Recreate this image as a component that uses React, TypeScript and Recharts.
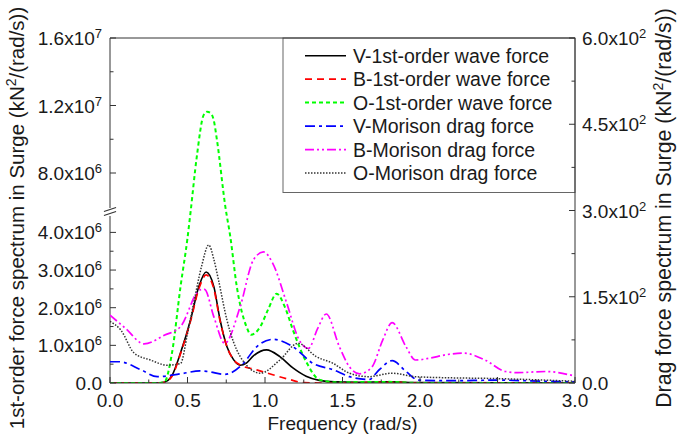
import React from 'react';
import { LineChart, Line, XAxis, YAxis, ReferenceLine, Customized } from 'recharts';

// ---------- data ----------
const seriesNames = [
  'V-1st-order wave force',
  'B-1st-order wave force',
  'O-1st-order wave force',
  'V-Morison drag force',
  'B-Morison drag force',
  'O-Morison drag force',
];

// first-order wave force spectra (left axis, kN^2/(rad/s))
const vWaveFreq = [0, 0.3, 0.35, 0.4, 0.455, 0.52, 0.573, 0.62, 0.67, 0.71, 0.754, 0.797, 0.84, 0.88, 0.925, 1.01, 1.096, 1.18, 1.265, 1.35, 1.45, 1.6, 1.8, 2.0, 3.0];
const vWaveVal = [0, 0, 0.02e6, 0.2e6, 0.8e6, 1.68e6, 2.56e6, 2.95e6, 2.56e6, 1.68e6, 0.97e6, 0.62e6, 0.47e6, 0.53e6, 0.72e6, 0.88e6, 0.7e6, 0.4e6, 0.18e6, 0.07e6, 0.03e6, 0.02e6, 0.03e6, 0.01e6, 0];

const bWaveFreq = [0, 0.3, 0.35, 0.4, 0.455, 0.52, 0.573, 0.62, 0.67, 0.71, 0.754, 0.797, 0.84, 0.946, 1.05, 1.16, 1.25, 1.4, 1.8, 2.0, 3.0];
const bWaveVal = [0, 0, 0.02e6, 0.18e6, 0.78e6, 1.65e6, 2.5e6, 2.87e6, 2.5e6, 1.65e6, 0.97e6, 0.62e6, 0.48e6, 0.35e6, 0.22e6, 0.09e6, 0.01e6, 0, 0.02e6, 0, 0];

const oWaveFreq = [0, 0.3, 0.35, 0.4, 0.455, 0.5, 0.519, 0.56, 0.604, 0.626, 0.647, 0.669, 0.69, 0.744, 0.776, 0.818, 0.88, 0.91, 0.97, 1.02, 1.075, 1.13, 1.18, 1.27, 1.35, 1.45, 1.8, 2.0, 3.0];
const oWaveVal = [0, 0, 0.02e6, 0.8e6, 2.56e6, 3.85e6, 5.3e6, 8.97e6, 11.43e6, 11.63e6, 11.57e6, 11.14e6, 9.96e6, 5.74e6, 3.89e6, 2.56e6, 1.5e6, 1.28e6, 1.5e6, 1.95e6, 2.37e6, 2.0e6, 1.41e6, 0.53e6, 0.09e6, 0.02e6, 0.03e6, 0, 0];

// Morison drag force spectra (right axis, kN^2/(rad/s))
const vMorFreq = [0, 0.06, 0.2, 0.305, 0.455, 0.58, 0.63, 0.74, 0.86, 0.946, 1.053, 1.18, 1.31, 1.44, 1.545, 1.67, 1.737, 1.82, 1.91, 1.99, 2.2, 2.5, 2.8, 3.0];
const vMorVal = [37, 37, 23, 11, 16, 21, 20, 15, 34, 63, 76, 63, 34, 23, 11, 6, 23, 39, 20, 5, 4, 5, 3, 2];

const bMorFreq = [0, 0.1, 0.22, 0.35, 0.455, 0.58, 0.61, 0.67, 0.74, 0.84, 0.925, 0.99, 1.05, 1.14, 1.22, 1.28, 1.34, 1.395, 1.48, 1.545, 1.61, 1.69, 1.76, 1.82, 1.91, 1.97, 2.06, 2.165, 2.28, 2.42, 2.55, 2.63, 2.81, 3.0];
const bMorVal = [118, 95, 68, 83, 98, 162, 163, 115, 69, 133, 214, 228, 208, 139, 75, 60, 95, 120, 63, 28, 16, 28, 75, 105, 63, 40, 43, 49, 52, 40, 20, 18, 20, 12];

const oMorFreq = [0, 0.07, 0.156, 0.26, 0.37, 0.455, 0.5, 0.54, 0.59, 0.637, 0.67, 0.7, 0.754, 0.84, 0.97, 1.096, 1.213, 1.33, 1.44, 1.545, 1.67, 1.82, 1.97, 2.2, 2.44, 2.7, 3.0];
const oMorVal = [107, 92, 52, 40, 31, 34, 86, 139, 202, 240, 215, 179, 110, 46, 17, 40, 69, 46, 34, 17, 11, 17, 11, 9, 8, 6, 3];

// ticks
const xTicks = [0, 0.25, 0.5, 0.75, 1, 1.25, 1.5, 1.75, 2, 2.25, 2.5, 2.75, 3];
const xTickLabels = ['0.0', '', '0.5', '', '1.0', '', '1.5', '', '2.0', '', '2.5', '', '3.0'];
const leftTickValues = [0, 0.5e6, 1e6, 1.5e6, 2e6, 2.5e6, 3e6, 3.5e6, 4e6, 8e6, 1e7, 1.2e7, 1.4e7, 1.6e7];
const leftTickLabels = ['0.0', '', '1.0x10^6', '', '2.0x10^6', '', '3.0x10^6', '', '4.0x10^6', '8.0x10^6', '', '1.2x10^7', '', '1.6x10^7'];
const rightTicks = [0, 75, 150, 225, 300, 375, 450, 525, 600];
const rightTickLabels = ['0.0', '', '1.5x10^2', '', '3.0x10^2', '', '4.5x10^2', '', '6.0x10^2'];

// ---------- broken left axis: piecewise-linear axis units ----------
const LOW_MAX = 4e6;
const HIGH_MIN = 8e6;
const HIGH_MAX = 1.6e7;
const U_LOW = 150.6; // axis units at 4e6
const U_HIGH = 210; // axis units at 8e6
const U_TOP = 345; // axis units at 1.6e7
function toAxis(v: number): number {
  if (v <= LOW_MAX) return (v / LOW_MAX) * U_LOW;
  if (v < HIGH_MIN) return U_LOW + ((v - LOW_MAX) / (HIGH_MIN - LOW_MAX)) * (U_HIGH - U_LOW);
  return U_HIGH + ((v - HIGH_MIN) / (HIGH_MAX - HIGH_MIN)) * (U_TOP - U_HIGH);
}
const leftTicks = leftTickValues.map(toAxis);

const build = (fs: number[], vs: number[], left: boolean) =>
  fs.map((f, i) => ({ f, v: left ? toAxis(vs[i]) : vs[i] }));

const series = [
  { data: build(vWaveFreq, vWaveVal, true), axis: 'left', color: '#000000', dash: undefined, width: 1.6 },
  { data: build(bWaveFreq, bWaveVal, true), axis: 'left', color: '#FF0000', dash: '7 5', width: 1.7 },
  { data: build(oWaveFreq, oWaveVal, true), axis: 'left', color: '#00FF00', dash: '4 3', width: 2 },
  { data: build(vMorFreq, vMorVal, false), axis: 'right', color: '#0000FF', dash: '10 4 3 4', width: 1.7 },
  { data: build(bMorFreq, bMorVal, false), axis: 'right', color: '#FF00FF', dash: '9 3 2 3 2 3', width: 1.7 },
  { data: build(oMorFreq, oMorVal, false), axis: 'right', color: '#333333', dash: '1.5 1.5', width: 1.5 },
];

// ---------- styling ----------
const FONT = '"Liberation Sans", Arial, sans-serif';
const AXIS = '#333333';
const TXT = '#1a1a1a';
const FS = 19;
const LEFT_TITLE_FS = 20.5;
const RIGHT_TITLE_FS = 21.3;

function SupText({ x, y, anchor, text }: { x: number; y: number; anchor: string; text: string }) {
  const [base, exp] = text.split('^');
  return (
    <text x={x} y={y} textAnchor={anchor as any} fontSize={FS} fill={TXT} fontFamily={FONT}>
      {base}
      {exp ? (
        <tspan dy={-7} fontSize={13}>
          {exp}
        </tspan>
      ) : null}
    </text>
  );
}

const findIdx = (arr: number[], v: number) => arr.findIndex((a) => Math.abs(a - v) < 1e-6);

const LeftTick = (p: any) => {
  const i = findIdx(leftTicks, p.payload.value);
  const label = i >= 0 ? leftTickLabels[i] : '';
  const major = label !== '';
  return (
    <g>
      <line x1={p.x} x2={p.x + (major ? 6 : 3.5)} y1={p.y} y2={p.y} stroke={AXIS} strokeWidth={1} />
      {major ? <SupText x={p.x - 8} y={p.y + 7} anchor="end" text={label} /> : null}
    </g>
  );
};

const RightTick = (p: any) => {
  const i = findIdx(rightTicks, p.payload.value);
  const label = i >= 0 ? rightTickLabels[i] : '';
  const major = label !== '';
  return (
    <g>
      <line x1={p.x - (major ? 6 : 3.5)} x2={p.x} y1={p.y} y2={p.y} stroke={AXIS} strokeWidth={1} />
      {major ? <SupText x={p.x + 7} y={p.y + 7} anchor="start" text={label} /> : null}
    </g>
  );
};

const XTick = (p: any) => {
  const i = findIdx(xTicks, p.payload.value);
  const label = i >= 0 ? xTickLabels[i] : '';
  const major = label !== '';
  return (
    <g>
      <line x1={p.x} x2={p.x} y1={p.y - (major ? 6 : 3.5)} y2={p.y} stroke={AXIS} strokeWidth={1} />
      {major ? (
        <text x={p.x} y={p.y + 24} textAnchor="middle" fontSize={FS} fill={TXT} fontFamily={FONT}>
          {label}
        </text>
      ) : null}
    </g>
  );
};

const Decorations = () => {
  const rowY0 = 55.7;
  const rowStep = 23.46;
  return (
    <g>
      {/* axis titles */}
      <text x={342.5} y={430} textAnchor="middle" fontSize={FS} fill={TXT} fontFamily={FONT}>
        Frequency (rad/s)
      </text>
      <text transform="translate(24,218) rotate(-90)" textAnchor="middle" fontSize={LEFT_TITLE_FS} fill={TXT} fontFamily={FONT}>
        1st-order force spectrum in Surge (kN
        <tspan dy={-8} fontSize={14}>2</tspan>
        <tspan dy={8}>/(rad/s))</tspan>
      </text>
      <text transform="translate(671,208) rotate(-90)" textAnchor="middle" fontSize={RIGHT_TITLE_FS} fill={TXT} fontFamily={FONT}>
        Drag force spectrum in Surge (kN
        <tspan dy={-8} fontSize={14}>2</tspan>
        <tspan dy={8}>/(rad/s))</tspan>
      </text>
      {/* legend */}
      <rect x={283} y={38} width={292} height={154.5} fill="#ffffff" stroke="#666666" strokeWidth={1} />
      {seriesNames.map((n, i) => {
        const s = series[i];
        const y = rowY0 + i * rowStep;
        return (
          <g key={n}>
            <line x1={305} x2={346} y1={y} y2={y} stroke={s.color} strokeWidth={s.width} strokeDasharray={s.dash} />
            <text x={353} y={y + 7} fontSize={19.5} fill={TXT} fontFamily={FONT}>
              {n}
            </text>
          </g>
        );
      })}
    </g>
  );
};

export default function App() {
  return (
    <div style={{ position: 'absolute', left: 0, top: 0, fontFamily: FONT, background: '#fff' }}>
      <LineChart width={677} height={439} margin={{ top: 38, right: 42, bottom: 26, left: 50 }}>
        <XAxis
          dataKey="f"
          type="number"
          domain={[0, 3]}
          ticks={xTicks}
          interval={0}
          allowDataOverflow
          height={30}
          tickSize={0}
          tickMargin={0}
          tickLine={false}
          stroke={AXIS}
          tick={(p: any) => <XTick {...p} />}
        />
        <YAxis
          yAxisId="left"
          orientation="left"
          type="number"
          domain={[0, U_TOP]}
          ticks={leftTicks}
          interval={0}
          allowDataOverflow
          width={60}
          axisLine={false}
          tickSize={0}
          tickMargin={0}
          tickLine={false}
          tick={(p: any) => <LeftTick {...p} />}
        />
        <YAxis
          yAxisId="right"
          orientation="right"
          type="number"
          domain={[0, 600]}
          ticks={rightTicks}
          interval={0}
          allowDataOverflow
          width={60}
          stroke={AXIS}
          tickSize={0}
          tickMargin={0}
          tickLine={false}
          tick={(p: any) => <RightTick {...p} />}
        />
        {/* broken left axis line and frame top */}
        <ReferenceLine yAxisId="left" segment={[{ x: 0, y: 0 }, { x: 0, y: 167 }]} stroke={AXIS} strokeWidth={1} ifOverflow="visible" />
        <ReferenceLine yAxisId="left" segment={[{ x: 0, y: 175 }, { x: 0, y: U_TOP }]} stroke={AXIS} strokeWidth={1} ifOverflow="visible" />
        <ReferenceLine yAxisId="left" segment={[{ x: -0.039, y: 167.5 }, { x: 0.039, y: 171.5 }]} stroke={AXIS} strokeWidth={1.2} ifOverflow="visible" />
        <ReferenceLine yAxisId="left" segment={[{ x: -0.039, y: 171.5 }, { x: 0.039, y: 175.5 }]} stroke={AXIS} strokeWidth={1.2} ifOverflow="visible" />
        <ReferenceLine yAxisId="left" segment={[{ x: 0, y: U_TOP }, { x: 3, y: U_TOP }]} stroke={AXIS} strokeWidth={1} ifOverflow="visible" />
        {series.map((s, i) => (
          <Line
            key={seriesNames[i]}
            name={seriesNames[i]}
            data={s.data}
            dataKey="v"
            yAxisId={s.axis}
            type="monotone"
            stroke={s.color}
            strokeWidth={s.width}
            strokeDasharray={s.dash}
            dot={false}
            activeDot={false}
            isAnimationActive={false}
          />
        ))}
        <Customized component={() => <Decorations />} />
      </LineChart>
    </div>
  );
}
